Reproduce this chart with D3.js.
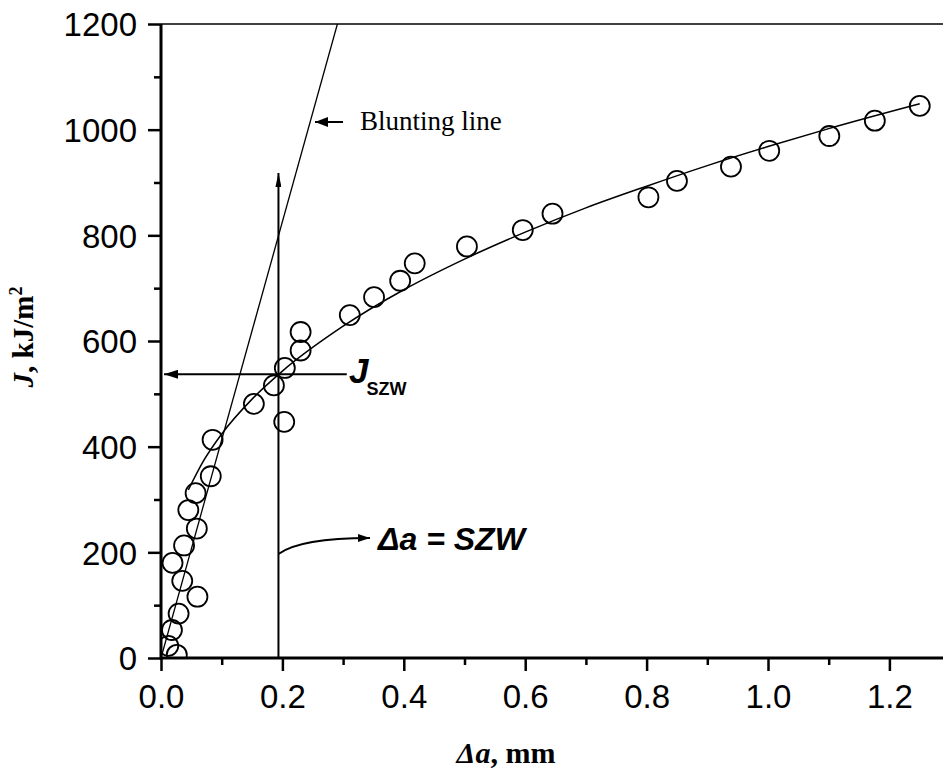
<!DOCTYPE html>
<html>
<head>
<meta charset="utf-8">
<script src="https://cdn.jsdelivr.net/npm/d3@7"></script>
<style>
  body { margin: 0; background: #fff; }
  svg { display: block; }
  .tick text { font-family: "Liberation Sans", Arial, sans-serif; font-size: 33px; fill: #000; }
</style>
</head>
<body>
<div id="chart"></div>
<script>
// measured points, Δa (mm) and J (kJ/m2)
var deltaA = [0.012, 0.026, 0.018, 0.029, 0.035, 0.060, 0.019, 0.038, 0.059, 0.045, 0.057, 0.082, 0.085,
              0.153, 0.186, 0.203, 0.204, 0.230, 0.230, 0.311, 0.351, 0.394, 0.418, 0.504, 0.596, 0.645,
              0.803, 0.850, 0.939, 1.002, 1.101, 1.176, 1.250];
var jValues = [23, 6, 53, 84, 146, 116, 180, 213, 245, 280, 312, 344, 413,
               481, 516, 447, 549, 582, 617, 649, 683, 714, 747, 779, 810, 841,
               872, 903, 930, 960, 988, 1017, 1045];

// fitted R-curve
var fitDa = [0.045, 0.07, 0.10, 0.15, 0.20, 0.30, 0.40, 0.50, 0.60, 0.70, 0.80, 0.90, 1.00, 1.10, 1.25];
var fitJ  = [318, 373, 424, 490, 543, 628, 697, 755, 806, 852, 893, 932, 968, 1002, 1049];

// blunting line
var bluntDa = [0, 0.2906];
var bluntJ  = [0, 1200];

// SZW construction
var szwDa = 0.1935;
var jSzw = 537;
var szwArrowTop = 918;
var jSzwArrowEnd = 0.306;

var xMajor = [0, 0.2, 0.4, 0.6, 0.8, 1.0, 1.2];
var xMinor = [0.1, 0.3, 0.5, 0.7, 0.9, 1.1, 1.3];
var yMajor = [0, 200, 400, 600, 800, 1000, 1200];
var yMinor = [100, 300, 500, 700, 900, 1100];

var W = 943, H = 770;
var padLeft = 161, padBottom = 658, padTop = 24;

var svg = d3.select("#chart").append("svg")
  .attr("width", W).attr("height", H);

var x = d3.scaleLinear().domain([0, 1.3]).range([padLeft, padLeft + 1.3 * 607]);
var y = d3.scaleLinear().domain([0, 1200]).range([padBottom, padTop]);

var defs = svg.append("defs");
defs.append("clipPath").attr("id", "plotclip")
  .append("rect").attr("x", padLeft).attr("y", padTop)
  .attr("width", W - padLeft).attr("height", padBottom - padTop);

function marker(id, len, wid) {
  defs.append("marker")
    .attr("id", id)
    .attr("viewBox", "0 0 " + len + " " + wid)
    .attr("refX", len).attr("refY", wid / 2)
    .attr("markerWidth", len).attr("markerHeight", wid)
    .attr("markerUnits", "userSpaceOnUse")
    .attr("orient", "auto")
    .append("path")
    .attr("d", "M0,0L" + len + "," + (wid / 2) + "L0," + wid + "Z")
    .attr("fill", "#000");
}
marker("arrH", 14, 9);
marker("arrV", 14, 6);
marker("arrB", 13, 10);
marker("arrC", 12, 8);

var plot = svg.append("g").attr("clip-path", "url(#plotclip)");

// top frame
svg.append("line")
  .attr("x1", padLeft).attr("x2", W).attr("y1", y(1200)).attr("y2", y(1200))
  .attr("stroke", "#000").attr("stroke-width", 1.5);

// blunting line
var line = d3.line().x(function(d) { return x(d[0]); }).y(function(d) { return y(d[1]); });
plot.append("path")
  .datum(d3.zip(bluntDa, bluntJ))
  .attr("d", line)
  .attr("fill", "none").attr("stroke", "#000").attr("stroke-width", 1.3);

// fit curve
plot.append("path")
  .datum(d3.zip(fitDa, fitJ))
  .attr("d", line.curve(d3.curveMonotoneX))
  .attr("fill", "none").attr("stroke", "#000").attr("stroke-width", 1.5);

// circles
plot.selectAll("circle.pt")
  .data(d3.zip(deltaA, jValues))
  .enter().append("circle")
  .attr("class", "pt")
  .attr("cx", function(d) { return x(d[0]); })
  .attr("cy", function(d) { return y(d[1]); })
  .attr("r", 10)
  .attr("fill", "none").attr("stroke", "#000").attr("stroke-width", 1.8);

// SZW vertical arrow
svg.append("line")
  .attr("x1", x(szwDa)).attr("x2", x(szwDa))
  .attr("y1", y(0)).attr("y2", y(szwArrowTop))
  .attr("stroke", "#000").attr("stroke-width", 2)
  .attr("marker-end", "url(#arrV)");

// J_SZW horizontal arrow
svg.append("line")
  .attr("x1", x(jSzwArrowEnd)).attr("x2", x(0) + 3)
  .attr("y1", y(jSzw)).attr("y2", y(jSzw))
  .attr("stroke", "#000").attr("stroke-width", 2)
  .attr("marker-end", "url(#arrH)");

// blunting line pointer
svg.append("line")
  .attr("x1", 343).attr("x2", 315)
  .attr("y1", 122).attr("y2", 122)
  .attr("stroke", "#000").attr("stroke-width", 2)
  .attr("marker-end", "url(#arrB)");

svg.append("text")
  .attr("x", 360).attr("y", 130)
  .attr("font-family", "'Liberation Serif', 'Times New Roman', serif")
  .attr("font-size", 27)
  .text("Blunting line");

// curved pointer to Δa = SZW
var cx0 = x(szwDa), cy0 = 554;
svg.append("path")
  .attr("d", "M" + cx0 + "," + cy0 + " Q" + (cx0 + 22) + "," + 538 + " " + 370 + "," + 538)
  .attr("fill", "none").attr("stroke", "#000").attr("stroke-width", 2)
  .attr("marker-end", "url(#arrC)");

svg.append("text")
  .attr("x", 378).attr("y", 550)
  .attr("font-family", "'Liberation Sans', Arial, sans-serif")
  .attr("font-size", 32).attr("font-weight", "bold").attr("font-style", "italic")
  .text("\u0394a = SZW");

var js = svg.append("text")
  .attr("x", 349).attr("y", 383)
  .attr("font-family", "'Liberation Sans', Arial, sans-serif")
  .attr("font-weight", "bold");
js.append("tspan").attr("font-size", 35).attr("font-style", "italic").text("J");
js.append("tspan").attr("font-size", 18).attr("dx", -2).attr("dy", 12).text("SZW");

// axes
var xAxis = svg.append("g").attr("transform", "translate(0," + padBottom + ")")
  .call(d3.axisBottom(x).tickValues(xMajor).tickSize(13).tickPadding(14).tickFormat(d3.format(".1f")));
var xAxisMinor = svg.append("g").attr("transform", "translate(0," + padBottom + ")")
  .call(d3.axisBottom(x).tickValues(xMinor).tickSize(7).tickFormat(""));
var yAxis = svg.append("g").attr("transform", "translate(" + padLeft + ",0)")
  .call(d3.axisLeft(y).tickValues(yMajor).tickSize(13).tickPadding(11).tickFormat(d3.format("d")));
var yAxisMinor = svg.append("g").attr("transform", "translate(" + padLeft + ",0)")
  .call(d3.axisLeft(y).tickValues(yMinor).tickSize(7).tickFormat(""));

xAxisMinor.select(".domain").remove();
yAxisMinor.select(".domain").remove();
svg.selectAll(".tick line").attr("stroke", "#000").attr("stroke-width", 2.5);
xAxis.select(".domain").attr("d", "M" + padLeft + ",0H" + W).attr("stroke", "#000").attr("stroke-width", 3);
yAxis.select(".domain").attr("d", "M0," + (padBottom + 1.5) + "V" + padTop).attr("stroke", "#000").attr("stroke-width", 3);
yAxis.selectAll(".tick text").attr("dy", "0.36em");
xAxis.selectAll(".tick text").attr("dy", "0.71em");

// axis titles
var xt = svg.append("text")
  .attr("x", 506).attr("y", 763)
  .attr("text-anchor", "middle")
  .attr("font-family", "'Liberation Serif', 'Times New Roman', serif")
  .attr("font-size", 30).attr("font-weight", "bold");
xt.append("tspan").attr("font-style", "italic").text("\u0394a");
xt.append("tspan").text(", mm");

var yt = svg.append("text")
  .attr("transform", "translate(33,337) rotate(-90)")
  .attr("text-anchor", "middle")
  .attr("font-family", "'Liberation Serif', 'Times New Roman', serif")
  .attr("font-size", 29).attr("font-weight", "bold");
yt.append("tspan").attr("font-style", "italic").text("J");
yt.append("tspan").text(", kJ/m");
yt.append("tspan").attr("font-size", 18).attr("dy", -11).text("2");
</script>
</body>
</html>
